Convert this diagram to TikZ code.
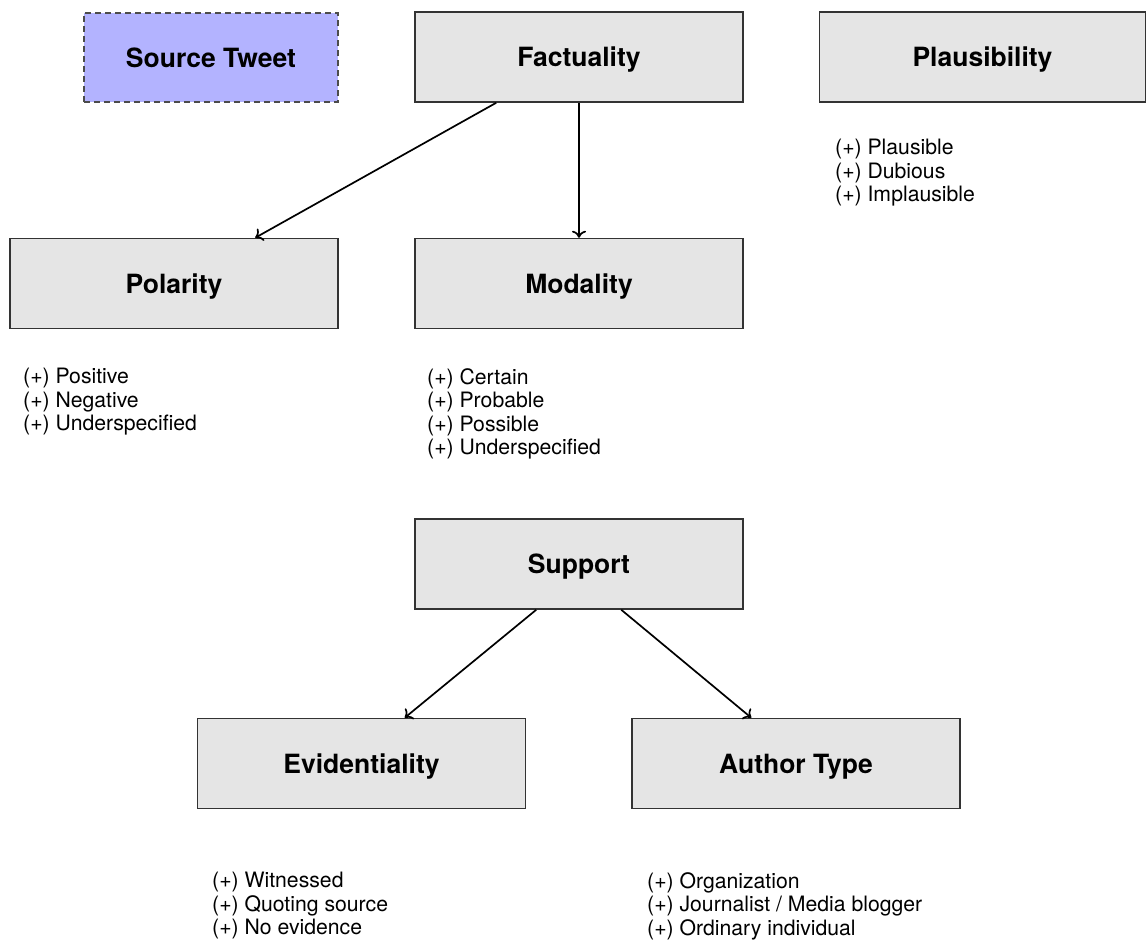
\documentclass[tikz,border=0pt]{standalone}
\usepackage{fontspec}
\setmainfont{TeX Gyre Heros}
\usetikzlibrary{arrows.meta}
\begin{document}
\begin{tikzpicture}[x=1pt,y=-1pt,
  box/.style={draw=black!80, line width=1.5pt, fill=black!10, minimum width=328pt, minimum height=90pt, inner sep=0pt, text height=19pt, text depth=0pt, font=\fontsize{26.5}{30}\selectfont\bfseries},
  srcbox/.style={box, draw=black!70, fill={rgb,255:red,179;green,179;blue,255}, dash pattern=on 6pt off 4pt, minimum width=254pt, minimum height=89pt},
  lst/.style={anchor=west, align=left, inner sep=0pt, font=\fontsize{21.2}{23.5}\selectfont},
  arr/.style={-{To[length=7pt,width=14pt]}, line width=1.7pt}]
\useasboundingbox (0,0) rectangle (1146,943);
\node[srcbox] (src) at (211,57.5) {Source Tweet};
\node[box] (fact) at (579,57) {Factuality};
\node[box, minimum width=326pt] (plaus) at (982.5,57) {Plausibility};
\node[box] (pol) at (174,283.5) {Polarity};
\node[box] (mod) at (579,283.5) {Modality};
\node[box] (sup) at (579,564) {Support};
\node[box] (evi) at (361.5,763.5) {Evidentiality};
\node[box] (auth) at (796,763.5) {Author Type};
\node[lst] (plist) at (835,173) {(+) Plausible\\(+) Dubious\\(+) Implausible};
\node[lst] (pollist) at (23,402) {(+) Positive\\(+) Negative\\(+) Underspecified};
\node[lst] (modlist) at (427,414) {(+) Certain\\(+) Probable\\(+) Possible\\(+) Underspecified};
\node[lst] (evilist) at (212,906) {(+) Witnessed\\(+) Quoting source\\(+) No evidence};
\node[lst] (authlist) at (647,906) {(+) Organization\\(+) Journalist / Media blogger\\(+) Ordinary individual};
\draw[arr] ([xshift=82pt]fact.south west) -- ([xshift=246pt]pol.north west);
\draw[arr] (fact.south) -- (mod.north);
\draw[arr] ([xshift=122pt]sup.south west) -- ([xshift=208pt]evi.north west);
\draw[arr] ([xshift=207pt]sup.south west) -- ([xshift=120pt]auth.north west);
\end{tikzpicture}
\end{document}
